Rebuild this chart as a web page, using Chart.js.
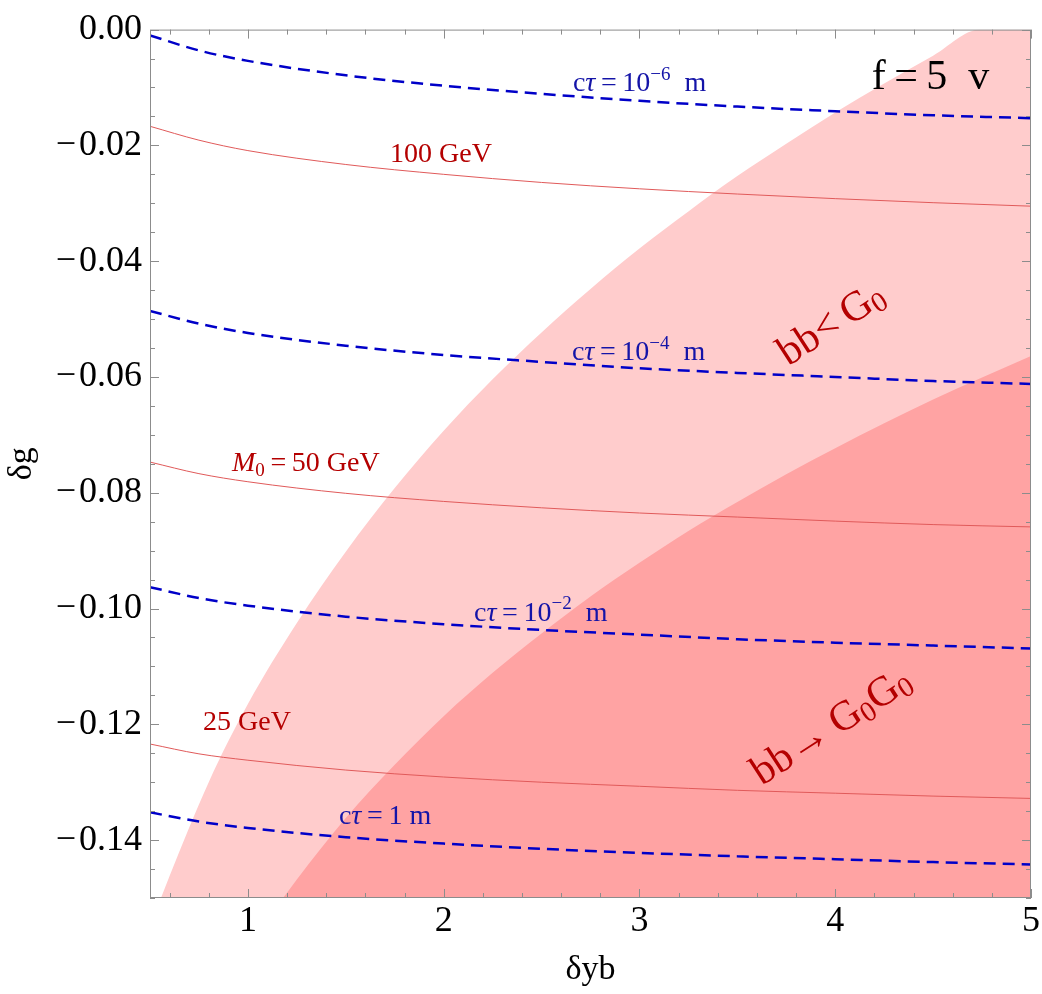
<!DOCTYPE html>
<html lang="en">
<head>
  <meta charset="UTF-8">
  <title>f=5 v : δg vs δyb</title>
  <script src="https://cdn.jsdelivr.net/npm/chart.js"></script>
  <style>
    body { margin: 0; background: #ffffff; }
    .plot-box { width: 1042px; height: 994px; position: relative; }
  </style>
</head>
<body>
  <div class="plot-box"><canvas id="plot"></canvas></div>

  <script>
    // δyb samples used for the contour lines
    const xs = [0.5, 0.75, 1, 1.5, 2, 2.5, 3, 3.5, 4, 4.5, 5];

    // cτ contours (blue, dashed)
    const ctau1e6 = [-0.0010, -0.0036, -0.0054, -0.0079, -0.0097, -0.0111, -0.0123, -0.0133, -0.0141, -0.0148, -0.0153];
    const ctau1e4 = [-0.0486, -0.0508, -0.0524, -0.0546, -0.0562, -0.0574, -0.0585, -0.0593, -0.0600, -0.0607, -0.0612];
    const ctau1e2 = [-0.0963, -0.0982, -0.0995, -0.1014, -0.1027, -0.1037, -0.1045, -0.1053, -0.1059, -0.1064, -0.1069];
    const ctau1 = [-0.1352, -0.1368, -0.1379, -0.1395, -0.1406, -0.1415, -0.1422, -0.1428, -0.1433, -0.1438, -0.1442];

    // M0 contours (red, thin)
    const m100 = [-0.0167, -0.0191, -0.0209, -0.0233, -0.0250, -0.0264, -0.0275, -0.0284, -0.0292, -0.0299, -0.0305];
    const m50 = [-0.0747, -0.0767, -0.0781, -0.0801, -0.0815, -0.0826, -0.0835, -0.0842, -0.0849, -0.0855, -0.0859];
    const m25 = [-0.1234, -0.1251, -0.1262, -0.1279, -0.1291, -0.1300, -0.1307, -0.1314, -0.1319, -0.1324, -0.1328];

    // region edges: bb < G0 (light) and bb -> G0G0 (dark), filled downwards
    const lightX = [0.556, 0.6, 0.8, 1.0, 1.25, 1.5, 1.75, 2.0, 2.25, 2.5, 2.75, 3.0, 3.25, 3.5, 3.75, 4.0, 4.25, 4.5, 4.74, 5.0];
    const lightY = [-0.150, -0.1462, -0.1300, -0.1165, -0.1025, -0.0902, -0.0792, -0.0693, -0.0604, -0.0523, -0.0448, -0.0378, -0.0314, -0.0253, -0.0197, -0.0143, -0.0093, -0.0045, 0, 0];
    const darkX = [1.18, 1.25, 1.5, 1.75, 2.0, 2.25, 2.5, 2.75, 3.0, 3.25, 3.5, 3.75, 4.0, 4.25, 4.5, 4.75, 5.0];
    const darkY = [-0.150, -0.1468, -0.1362, -0.1270, -0.1186, -0.1111, -0.1043, -0.0979, -0.0921, -0.0866, -0.0816, -0.0768, -0.0723, -0.0680, -0.0639, -0.0601, -0.0564];

    // tick labels
    const xTicks = [1, 2, 3, 4, 5];
    const yTicks = [0, -0.02, -0.04, -0.06, -0.08, -0.10, -0.12, -0.14];

    const SERIF = '"Liberation Serif", "DejaVu Serif", serif';
    const BLUE = '#0000c8';
    const BLUE_TXT = '#1414a8';
    const RED = '#e05a5a';
    const RED_TXT = '#b40000';

    const pts = (xv, yv) => xv.map((x, i) => ({ x: x, y: yv[i] }));

    function contour(yv, dashed) {
      return {
        data: pts(xs, yv),
        showLine: true,
        borderColor: dashed ? BLUE : RED,
        borderWidth: dashed ? 2.5 : 1,
        borderDash: dashed ? [12, 7] : [],
        cubicInterpolationMode: 'monotone',
        pointRadius: 0,
        fill: false,
        order: 0
      };
    }

    function region(xv, yv, colour, order) {
      return {
        data: pts(xv, yv),
        showLine: true,
        borderWidth: 0,
        borderColor: 'rgba(0,0,0,0)',
        backgroundColor: colour,
        cubicInterpolationMode: 'monotone',
        pointRadius: 0,
        fill: 'start',
        order: order
      };
    }

    const datasets = [
      contour(ctau1e6, true),
      contour(ctau1e4, true),
      contour(ctau1e2, true),
      contour(ctau1, true),
      contour(m100, false),
      contour(m50, false),
      contour(m25, false),
      region(darkX, darkY, 'rgb(255,163,163)', 1),
      region(lightX, lightY, 'rgb(255,204,204)', 2)
    ];

    // text placed in data coordinates
    const ctauParts = exp => [['c'], ['τ', 'it'], ['\u2009=\u200910'], [exp, 'sup'], ['\u2002m']];
    const labels = [
      { x: 2.66, y: -0.0106, color: BLUE_TXT, parts: ctauParts('−6') },
      { x: 1.726, y: -0.0228, color: RED_TXT, parts: [['100 GeV']] },
      { x: 2.655, y: -0.0571, color: BLUE_TXT, parts: ctauParts('−4') },
      { x: 0.919, y: -0.0762, color: RED_TXT, parts: [['M', 'it'], ['0', 'sub'], ['\u2009=\u200950 GeV']] },
      { x: 2.155, y: -0.1021, color: BLUE_TXT, parts: ctauParts('−2') },
      { x: 0.771, y: -0.1210, color: RED_TXT, parts: [['25 GeV']] },
      { x: 1.465, y: -0.1372, color: BLUE_TXT, parts: [['c'], ['τ', 'it'], ['\u2009=\u20091 m']] },
      { x: 4.187, y: -0.0102, color: '#000', size: 42, parts: [['f\u2009=\u20095\u2002v']] },
      { x: 3.983, y: -0.0510, color: RED_TXT, size: 42, rot: -33, center: true, parts: [['bb<\u2009G'], ['0', 'sub']] },
      { x: 3.983, y: -0.1205, color: RED_TXT, size: 42, rot: -33, center: true, parts: [['bb→\u2009G'], ['0', 'sub'], ['G'], ['0', 'sub']] }
    ];

    function drawRich(ctx, item, px, py) {
      const size = item.size || 28;
      const segs = item.parts.map(([t, kind]) => {
        const small = kind === 'sup' || kind === 'sub';
        const s = small ? size * 0.68 : size;
        const font = (kind === 'it' ? 'italic ' : '') + s + 'px ' + SERIF;
        ctx.font = font;
        const dy = kind === 'sup' ? -size * 0.4 : kind === 'sub' ? size * 0.2 : 0;
        return { t, font, dy, w: ctx.measureText(t).width };
      });
      const total = segs.reduce((a, s) => a + s.w, 0);
      ctx.save();
      ctx.translate(px, py);
      if (item.rot) ctx.rotate(item.rot * Math.PI / 180);
      ctx.fillStyle = item.color;
      ctx.textBaseline = item.center ? 'middle' : 'alphabetic';
      let cx = item.center ? -total / 2 : 0;
      segs.forEach(s => {
        ctx.font = s.font;
        ctx.fillText(s.t, cx, s.dy);
        cx += s.w;
      });
      ctx.restore();
    }

    // frame with inward ticks on all four sides, then the labels
    const framePlugin = {
      id: 'frame',
      afterDatasetsDraw(chart) {
        const { ctx, chartArea: a, scales: { x, y } } = chart;
        ctx.save();
        ctx.strokeStyle = '#8c8c8c';
        ctx.lineWidth = 1;
        ctx.strokeRect(a.left + 0.5, a.top + 0.5, a.right - a.left - 1, a.bottom - a.top - 1);
        ctx.beginPath();
        for (let k = 3; k <= 25; k++) {
          const p = Math.round(x.getPixelForValue(k / 5)) + 0.5;
          const len = k % 5 === 0 ? 9 : 5;
          ctx.moveTo(p, a.bottom); ctx.lineTo(p, a.bottom - len);
          ctx.moveTo(p, a.top); ctx.lineTo(p, a.top + len);
        }
        for (let k = 0; k <= 30; k++) {
          const p = Math.round(y.getPixelForValue(-k / 200)) + 0.5;
          const len = k % 4 === 0 ? 9 : 5;
          ctx.moveTo(a.left, p); ctx.lineTo(a.left + len, p);
          ctx.moveTo(a.right, p); ctx.lineTo(a.right - len, p);
        }
        ctx.stroke();
        ctx.restore();
      },
      afterDraw(chart) {
        const { ctx, scales: { x, y } } = chart;
        labels.forEach(l => drawRich(ctx, l, x.getPixelForValue(l.x), y.getPixelForValue(l.y)));
      }
    };

    new Chart(document.getElementById('plot'), {
      type: 'scatter',
      data: { datasets: datasets },
      options: {
        responsive: true,
        maintainAspectRatio: false,
        animation: false,
        layout: { padding: { top: 18, right: 11, left: 0, bottom: 0 } },
        plugins: { legend: { display: false }, tooltip: { enabled: false } },
        scales: {
          x: {
            type: 'linear',
            min: 0.5,
            max: 5,
            afterBuildTicks: s => { s.ticks = xTicks.map(v => ({ value: v })); },
            afterFit: s => { s.height = 96; },
            grid: { display: false, drawTicks: false },
            border: { display: false },
            ticks: {
              autoSkip: false,
              padding: 2,
              color: '#000',
              font: { family: SERIF, size: 36 },
              callback: v => String(v)
            },
            title: {
              display: true,
              text: 'δyb',
              color: '#000',
              font: { family: SERIF, size: 34 },
              padding: { top: 0, bottom: 4 }
            }
          },
          y: {
            type: 'linear',
            min: -0.15,
            max: 0,
            afterBuildTicks: s => { s.ticks = yTicks.map(v => ({ value: v })); },
            afterFit: s => { s.width = 150; },
            grid: { display: false, drawTicks: false },
            border: { display: false },
            ticks: {
              autoSkip: false,
              padding: 8,
              color: '#000',
              font: { family: SERIF, size: 36 },
              callback: v => (v < -1e-9 ? '−\u200a' : '') + Math.abs(v).toFixed(2)
            },
            title: {
              display: true,
              text: 'δg',
              color: '#000',
              font: { family: SERIF, size: 34 },
              padding: { top: 2, bottom: 0 }
            }
          }
        }
      },
      plugins: [framePlugin]
    });
  </script>
</body>
</html>
